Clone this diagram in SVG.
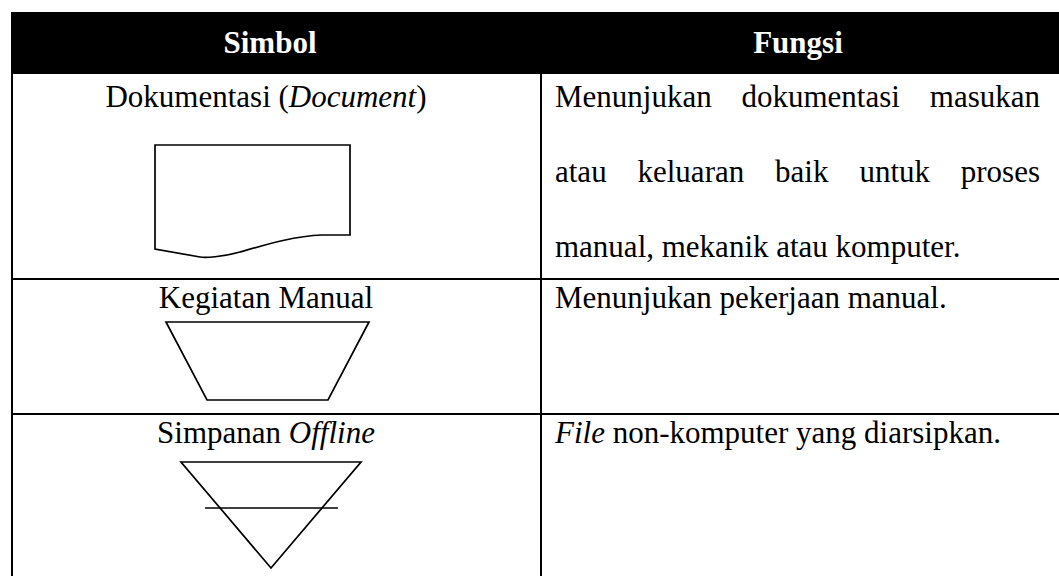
<svg xmlns="http://www.w3.org/2000/svg" width="1059" height="576" viewBox="0 0 1059 576">
<style>
.t{font-family:"Liberation Serif","Times New Roman",serif;font-size:31px;fill:#000}
.h{font-family:"Liberation Serif","Times New Roman",serif;font-size:31px;font-weight:bold;fill:#fff}
.i{font-style:italic}
.g{stroke:#000;stroke-width:2;fill:none}
.s{stroke:#000;stroke-width:1.7;fill:#fff;stroke-linejoin:miter}
</style>
<rect x="0" y="0" width="1059" height="576" fill="#fff"/>
<g id="grid">
<rect x="11" y="12" width="1050" height="62" fill="#000"/>
<line class="g" x1="12" y1="12" x2="12" y2="576"/>
<line class="g" x1="541" y1="73" x2="541" y2="576"/>
<line class="g" x1="12" y1="279" x2="1059" y2="279"/>
<line class="g" x1="12" y1="414" x2="1059" y2="414"/>
</g>
<g id="header">
<text class="h" x="270" y="53" text-anchor="middle">Simbol</text>
<text class="h" x="798" y="53" text-anchor="middle">Fungsi</text>
</g>
<g id="row-document">
<text class="t" x="266" y="107" text-anchor="middle">Dokumentasi (<tspan class="i">Document</tspan>)</text>
<path class="s" d="M155,145 H350 V235 H322 C295,236 268,244 240,252 C222,257 205,258 200,257 L155,249 Z"/>
<g id="fungsi-document">
<text class="t" x="555" y="107">Menunjukan</text>
<text class="t" x="741.5" y="107">dokumentasi</text>
<text class="t" x="1040" y="107" text-anchor="end">masukan</text>
<text class="t" x="555" y="182">atau</text>
<text class="t" x="637.5" y="182">keluaran</text>
<text class="t" x="775.1" y="182">baik</text>
<text class="t" x="859.4" y="182">untuk</text>
<text class="t" x="1040" y="182" text-anchor="end">proses</text>
<text class="t" x="555" y="257">manual, mekanik atau komputer.</text>
</g>
</g>
<g id="row-manual">
<text class="t" x="266" y="308" text-anchor="middle">Kegiatan Manual</text>
<polygon class="s" points="166,322 369,322 328,400 207,400"/>
<text class="t" x="555" y="308">Menunjukan pekerjaan manual.</text>
</g>
<g id="row-offline">
<text class="t" x="266" y="443" text-anchor="middle">Simpanan <tspan class="i">Offline</tspan></text>
<polygon class="s" points="181,462 361,462 271,568"/>
<line class="s" x1="205" y1="508" x2="338" y2="508"/>
<text class="t" x="555" y="443"><tspan class="i">File</tspan> non-komputer yang diarsipkan.</text>
</g>
</svg>
